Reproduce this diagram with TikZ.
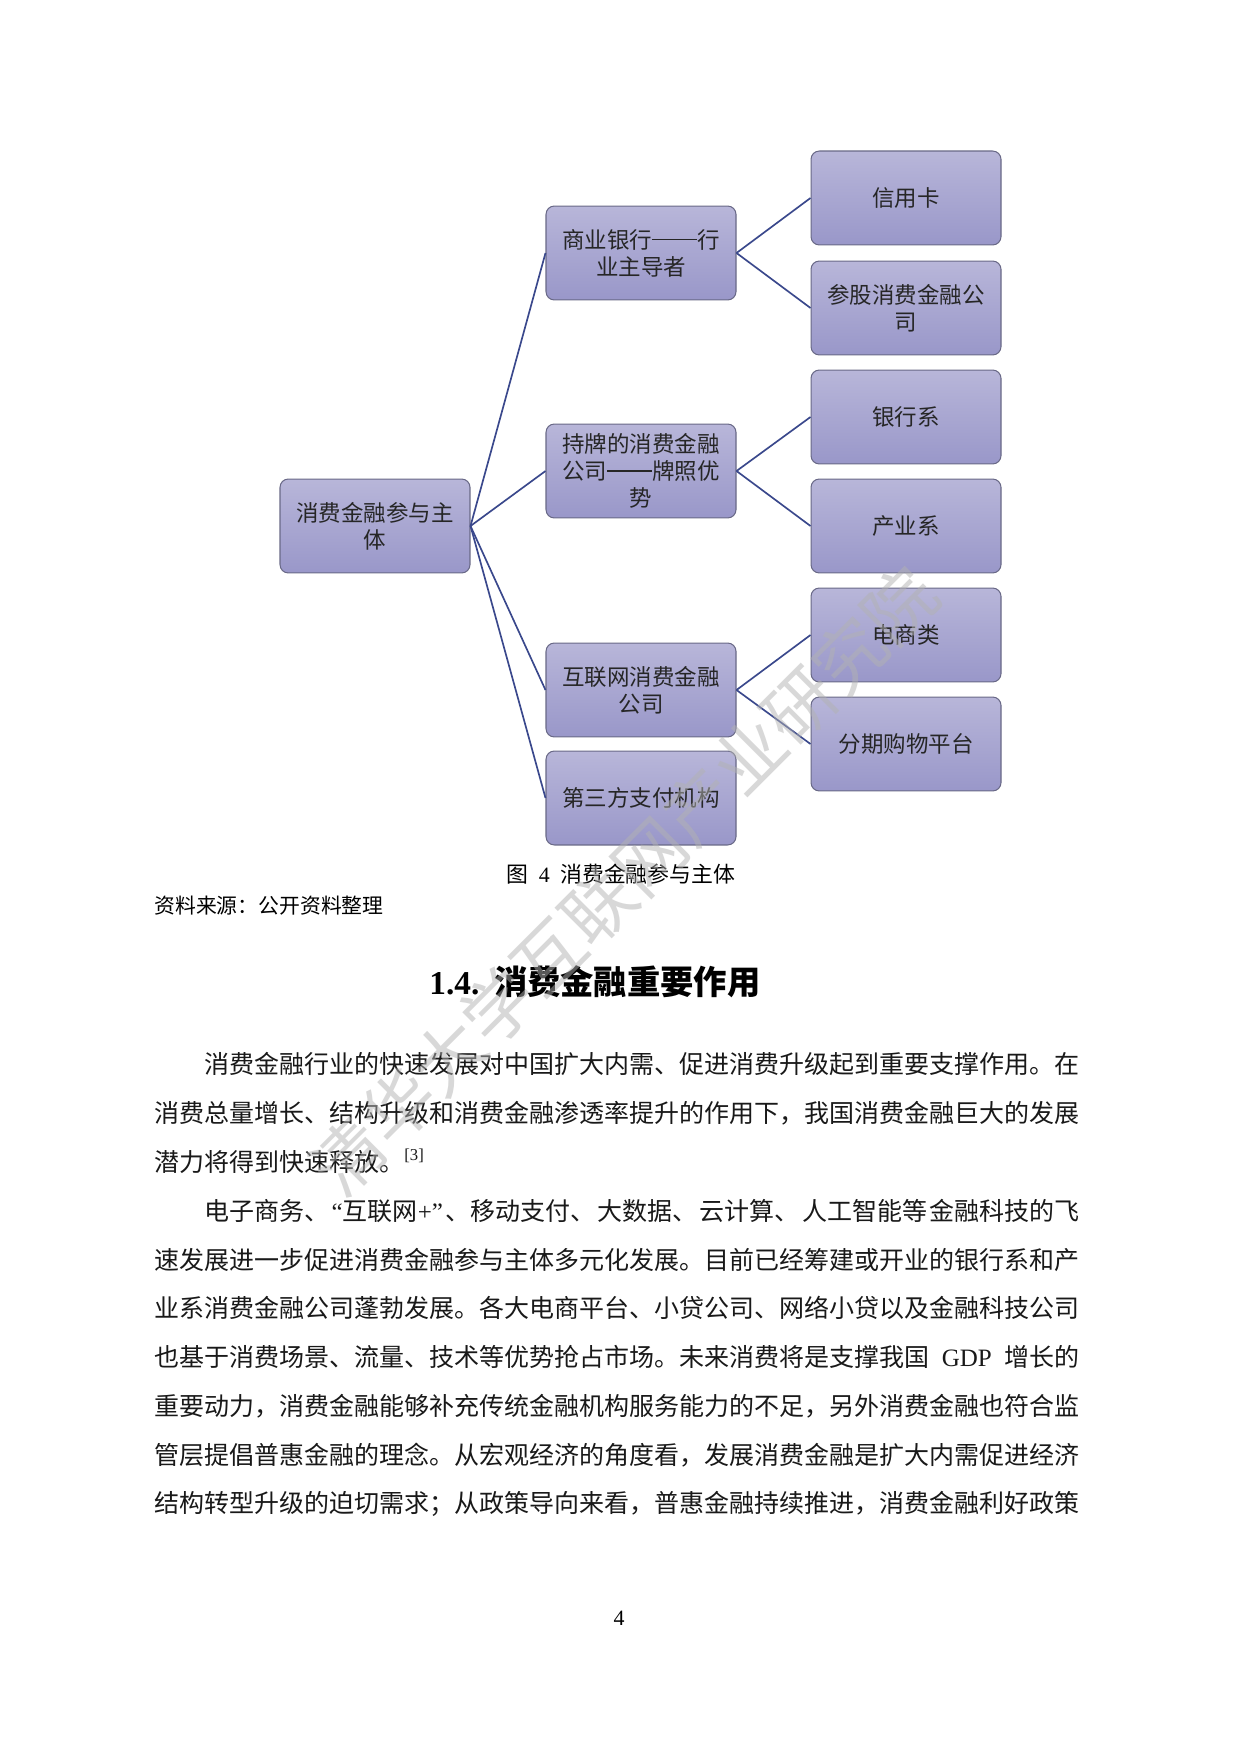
\documentclass[tikz,border=0pt]{standalone}
\usepackage{fontspec}
\setmainfont{Noto Sans CJK SC}
\newfontfamily\tnr{Liberation Serif}
\definecolor{boxtop}{RGB}{184,182,217}
\definecolor{boxbot}{RGB}{153,151,201}
\definecolor{boxline}{RGB}{105,105,135}
\definecolor{linkc}{RGB}{58,72,140}
\newcommand\jline[2]{\makebox[#1][s]{#2}}
\newcommand\gl{\hspace{0pt plus 1fil}}
\newcommand\dd{\makebox[21.6pt]{\rule[3.9pt]{21.6pt}{0.5pt}}}
\tikzset{
  pbox/.style={draw=boxline, line width=0.5pt, rounded corners=4pt,
    top color=boxtop, bottom color=boxbot, minimum width=91.2pt,
    minimum height=45.1pt, align=center, text=black!85, inner sep=2pt,
    font=\fontsize{10.8}{13}\selectfont},
  link/.style={draw=linkc, line width=0.8pt},
  bodyline/.style={anchor=west, inner sep=0pt, text height=10.5pt,
    text depth=1.5pt, font=\fontsize{12}{12}\selectfont, text=black!90},
}
\begin{document}
\begin{tikzpicture}[x=0.48006pt, y=-0.48006pt]
\fill[white] (0,0) rectangle (1240,1754);
\useasboundingbox (0,0) rectangle (1240,1754);

% diagram boxes
\node[pbox] (root) at (375,526) {消费金融参与主\\体};
\node[pbox] (bank) at (641,253) {商业银行\dd 行\\业主导者};
\node[pbox] (lic)  at (641,471) {持牌的消费金融\\公司\dd 牌照优\\势};
\node[pbox] (net)  at (641,690) {互联网消费金融\\公司};
\node[pbox] (pay)  at (641,798) {第三方支付机构};
\node[pbox] (card) at (906,198) {信用卡};
\node[pbox] (share) at (906,308) {参股消费金融公\\司};
\node[pbox] (bsys) at (906,417) {银行系};
\node[pbox] (isys) at (906,526) {产业系};
\node[pbox] (ecom) at (906,635) {电商类};
\node[pbox] (inst) at (906,744) {分期购物平台};

% connectors
\draw[link] (root.east) -- (bank.west);
\draw[link] (root.east) -- (lic.west);
\draw[link] (root.east) -- (net.west);
\draw[link] (root.east) -- (pay.west);
\draw[link] (bank.east) -- (card.west);
\draw[link] (bank.east) -- (share.west);
\draw[link] (lic.east) -- (bsys.west);
\draw[link] (lic.east) -- (isys.west);
\draw[link] (net.east) -- (ecom.west);
\draw[link] (net.east) -- (inst.west);

% caption and source
\node[font=\fontsize{10.5}{10.5}\selectfont, inner sep=0pt] (cap) at (621,874)
  {图\hspace{5pt}{\tnr 4}\hspace{5pt}消费金融参与主体};
\node[anchor=west, inner sep=0pt, font=\fontsize{10}{10}\selectfont] (src) at (154,906)
  {资料来源：公开资料整理};

% heading
\node[anchor=west, inner sep=0pt, font=\fontsize{16}{16}\selectfont\bfseries] (head) at (429,982)
  {{\tnr\bfseries 1.4.}\hspace{7pt}消费金融重要作用};

% body text
\node[bodyline] (l1) at (204,1064) {\jline{420pt}{消费金融行业的快速发展对中国扩大内需、促进消费升级起到重要支撑作用。在}};
\node[bodyline] (l2) at (154,1113) {\jline{444pt}{消费总量增长、结构升级和消费金融渗透率提升的作用下，我国消费金融巨大的发展}};
\node[bodyline] (l3) at (154,1162) {潜力将得到快速释放。\raisebox{5pt}{\tnr\fontsize{8}{8}\selectfont [3]}};
\node[bodyline] (l4) at (204,1211) {\jline{420pt}{电子商务、\gl{\tnr “}互联网{\tnr +”}\gl 、移动支付、\gl 大数据、\gl 云计算、\gl 人工智能等\gl 金融科技的飞}};
\node[bodyline] (l5) at (154,1260) {\jline{444pt}{速发展进一步促进消费金融参与主体多元化发展。目前已经筹建或开业的银行系和产}};
\node[bodyline] (l6) at (154,1308) {\jline{444pt}{业系消费金融公司蓬勃发展。各大电商平台、小贷公司、网络小贷以及金融科技公司}};
\node[bodyline] (l7) at (154,1357) {\jline{444pt}{也基于消费场景、流量、技术等优势抢占市场。未来消费将是支撑我国 {\tnr GDP} 增长的}};
\node[bodyline] (l8) at (154,1406) {\jline{444pt}{重要动力，消费金融能够补充传统金融机构服务能力的不足，另外消费金融也符合监}};
\node[bodyline] (l9) at (154,1455) {\jline{444pt}{管层提倡普惠金融的理念。从宏观经济的角度看，发展消费金融是扩大内需促进经济}};
\node[bodyline] (l10) at (154,1503) {\jline{444pt}{结构转型升级的迫切需求；从政策导向来看，普惠金融持续推进，消费金融利好政策}};

% page number
\node[font=\tnr\fontsize{10.5}{10.5}\selectfont, inner sep=0pt] (pg) at (619,1618) {4};

% watermark
\node[rotate=45, text=black!30, text opacity=0.5, inner sep=0pt,
  font=\fontsize{34}{34}\selectfont] (wm) at (624,881) {清华大学互联网产业研究院};
\end{tikzpicture}
\end{document}
